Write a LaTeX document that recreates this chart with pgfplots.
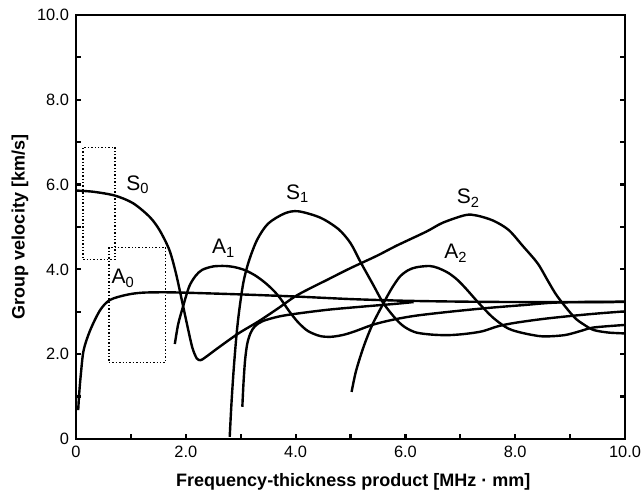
\documentclass[border=0pt]{standalone}
\usepackage{fontspec}
\setmainfont{Liberation Sans}
\usepackage{pgfplots}
\pgfplotsset{compat=1.18}
\usetikzlibrary{calc}

\begin{document}
\begin{tikzpicture}[curve/.style={black, line width=1.2pt, smooth, tension=0.5, mark=none}]
\begin{axis}[
  name=ax, scale only axis,
  width=274.5pt, height=212pt,
  xmin=0, xmax=10, ymin=0, ymax=10,
  xtick={0,...,10}, ytick={0,...,10},
  xticklabels={0,,2.0,,4.0,,6.0,,8.0,,10.0},
  yticklabels={0,,2.0,,4.0,,6.0,,8.0,,10.0},
  tick align=inside, xtick pos=left,
  major tick length=2.5pt,
  every tick/.style={line width=1.1pt, black},
  axis line style={line width=0.9pt},
  tick label style={font=\fontsize{8.2}{9}\selectfont},
  xlabel={Frequency-thickness product [MHz · mm]},
  ylabel={Group velocity [km/s]},
  every axis x label/.style={at={(axis description cs:0.505,-0.101)}, anchor=center,
    font=\bfseries\fontsize{9}{10}\selectfont},
  every axis y label/.style={at={(axis description cs:-0.102,0.5)}, anchor=center, rotate=90,
    font=\bfseries\fontsize{9}{10}\selectfont},
]
% A0
\addplot[curve] coordinates {(0.04,0.68) (0.06,1.1) (0.09,1.55) (0.14,2.10) (0.26,2.57) (0.44,3.04) (0.62,3.28) (0.92,3.40) (1.2,3.45) (1.6,3.46) (2.0,3.45) (3.0,3.41) (4.0,3.36) (5.0,3.30) (6.0,3.26) (7.0,3.24) (8.0,3.23) (9.0,3.23) (10,3.24)};
% S0 (continuing into the S2 hump)
\addplot[curve] coordinates {(0,5.86) (0.32,5.83) (0.71,5.74) (1.04,5.56) (1.34,5.24) (1.52,4.93) (1.70,4.46) (1.82,3.91) (1.94,3.20) (2.04,2.6) (2.12,2.15) (2.2,1.9) (2.27,1.86) (2.35,1.92) (2.6,2.16) (2.96,2.49) (3.32,2.77) (3.68,3.08) (4.04,3.40) (4.6,3.77) (5.0,4.03) (5.48,4.32) (5.84,4.56) (6.38,4.89) (6.68,5.10) (7.09,5.28) (7.3,5.27) (7.6,5.15) (7.88,4.93) (8.14,4.55) (8.41,4.14) (8.6,3.72) (8.77,3.36) (9.07,2.88) (9.25,2.70) (9.43,2.57) (9.7,2.51) (10,2.49)};
% A1
\addplot[curve] coordinates {(1.80,2.24) (1.86,2.7) (1.94,3.08) (2.06,3.59) (2.18,3.85) (2.3,3.99) (2.5,4.07) (2.72,4.08) (2.9,4.05) (3.08,3.98) (3.26,3.86) (3.44,3.69) (3.6,3.5) (3.73,3.3) (3.88,3.02) (4.04,2.76) (4.22,2.55) (4.44,2.43) (4.64,2.41) (4.85,2.45) (5.06,2.53) (5.42,2.70) (5.8,2.82) (6.2,2.91) (6.8,3.00) (7.5,3.09) (8.17,3.16) (8.8,3.22) (10,3.23)};
% S1
\addplot[curve] coordinates {(2.80,0.05) (2.83,0.8) (2.87,1.6) (2.92,2.4) (2.97,3.0) (3.05,3.7) (3.15,4.2) (3.3,4.7) (3.5,5.08) (3.8,5.32) (4.05,5.37) (4.45,5.22) (4.78,4.95) (5.0,4.62) (5.18,4.18) (5.42,3.62) (5.60,3.20) (5.84,2.81) (6.0,2.63) (6.2,2.51) (6.5,2.46) (6.8,2.45) (7.1,2.48) (7.4,2.54) (7.69,2.66) (8.0,2.74) (8.5,2.83) (9.0,2.90) (9.5,2.96) (10,3.01)};
% lower branch from 3.0
\addplot[curve] coordinates {(3.03,0.76) (3.05,1.3) (3.08,1.86) (3.12,2.25) (3.18,2.5) (3.26,2.66) (3.4,2.78) (3.7,2.89) (4.04,2.96) (4.6,3.05) (5.2,3.12) (5.84,3.19) (6.15,3.23)};
% A2
\addplot[curve] coordinates {(5.02,1.11) (5.1,1.6) (5.24,2.18) (5.4,2.7) (5.6,3.2) (5.75,3.55) (5.9,3.83) (6.05,3.98) (6.2,4.05) (6.44,4.08) (6.6,4.03) (6.79,3.91) (6.95,3.75) (7.1,3.55) (7.34,3.20) (7.58,2.88) (7.8,2.66) (7.94,2.57) (8.17,2.49) (8.5,2.42) (8.9,2.45) (9.2,2.55) (9.43,2.63) (10,2.69)};
% dotted boxes
\addplot[black, line width=0.7pt, densely dotted, mark=none] coordinates {(0.13,4.23) (0.71,4.23) (0.71,6.88) (0.13,6.88) (0.13,4.23)};
\addplot[black, line width=0.7pt, densely dotted, mark=none] coordinates {(0.60,1.81) (1.63,1.81) (1.63,4.52) (0.60,4.52) (0.60,1.81)};
% mode labels
\begin{scope}[every node/.style={font=\fontsize{10.5}{11}\selectfont}]
\node at (axis cs:1.13,5.99) {S\textsubscript{0}};
\node at (axis cs:0.86,3.79) {A\textsubscript{0}};
\node at (axis cs:2.69,4.50) {A\textsubscript{1}};
\node at (axis cs:4.04,5.79) {S\textsubscript{1}};
\node at (axis cs:7.15,5.68) {S\textsubscript{2}};
\node at (axis cs:6.92,4.38) {A\textsubscript{2}};
\end{scope}
\end{axis}
\pgfresetboundingbox
\path[use as bounding box] ($(ax.south west)+(-38pt,-28pt)$) rectangle ($(ax.north east)+(8.5pt,7.5pt)$);
\end{tikzpicture}
\end{document}
